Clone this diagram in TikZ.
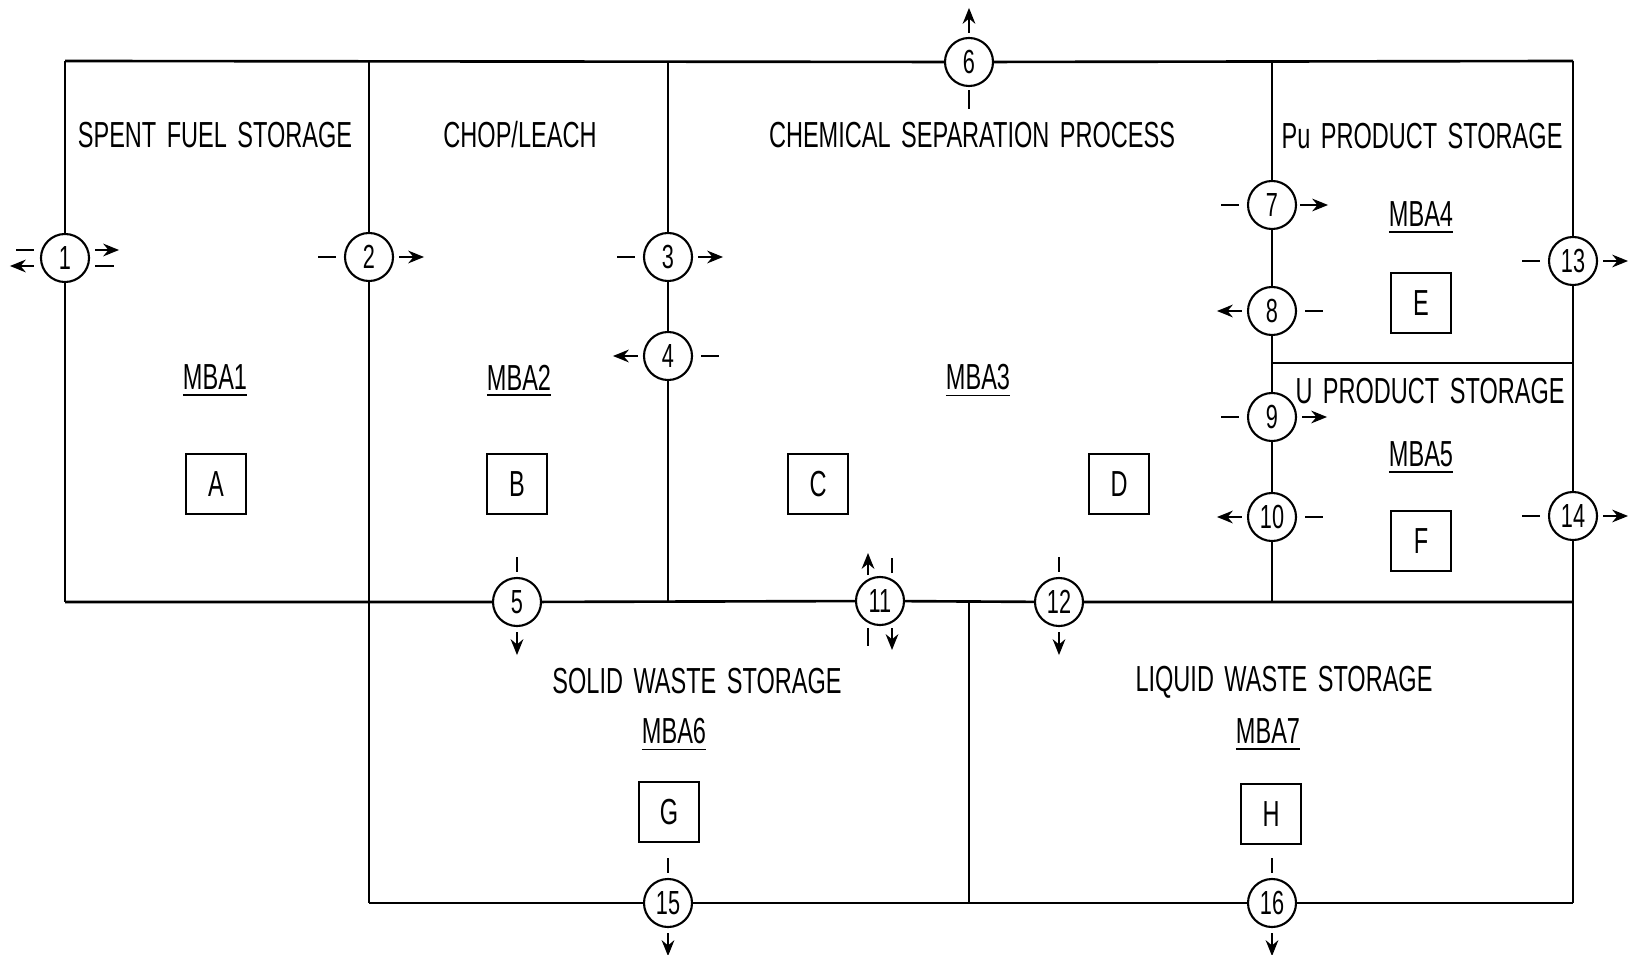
\documentclass[tikz,border=0pt]{standalone}
\usepackage{fontspec}
\setmainfont{Liberation Sans}[FakeStretch=0.65,WordSpace=1.6]
\usetikzlibrary{arrows.meta}

\tikzset{
  wall/.style={line width=0.75pt},
  mpoint/.style={circle, draw, line width=0.6pt, minimum size=0.48cm, inner sep=0pt,
    font=\fontsize{9.5}{10}\selectfont},
  matbox/.style={draw, line width=0.6pt, minimum size=0.6cm, inner sep=0pt},
  lbl/.style={font=\fontsize{10.3}{12}\selectfont},
  tick/.style={line width=0.6pt},
  flow/.style={line width=0.6pt, -{Stealth[length=4.5pt,width=3.6pt]}}
}

\begin{document}
\begin{tikzpicture}[x=0.01cm, y=-0.01cm, lbl]
    \useasboundingbox (0,0) rectangle (1628,955);

    % Ecken
    \coordinate (tl) at (65,61);
    \coordinate (t2) at (369,61);
    \coordinate (t3) at (668,61);
    \coordinate (t4) at (1272,61);
    \coordinate (tr) at (1573,61);
    \coordinate (ml) at (65,602);
    \coordinate (m2) at (369,602);
    \coordinate (m3) at (668,602);
    \coordinate (m4) at (969,602);
    \coordinate (m5) at (1272,602);
    \coordinate (mr) at (1573,602);
    \coordinate (s4) at (1272,363);
    \coordinate (sr) at (1573,363);
    \coordinate (b2) at (369,903);
    \coordinate (b4) at (969,903);
    \coordinate (br) at (1573,903);

    % Messpunkte
    \node[mpoint] (c1) at (65,258) {1};
    \node[mpoint] (c2) at (369,257) {2};
    \node[mpoint] (c3) at (668,257) {3};
    \node[mpoint] (c4) at (668,356) {4};
    \node[mpoint] (c5) at (517,602) {5};
    \node[mpoint] (c6) at (969,62) {6};
    \node[mpoint] (c7) at (1272,205) {7};
    \node[mpoint] (c8) at (1272,311) {8};
    \node[mpoint] (c9) at (1272,417) {9};
    \node[mpoint] (c10) at (1272,517) {10};
    \node[mpoint] (c11) at (880,601) {11};
    \node[mpoint] (c12) at (1059,602) {12};
    \node[mpoint] (c13) at (1573,261) {13};
    \node[mpoint] (c14) at (1573,516) {14};
    \node[mpoint] (c15) at (668,903) {15};
    \node[mpoint] (c16) at (1272,903) {16};

    % Waende
    \draw[wall] (tl) -- (c6) -- (tr);
    \draw[wall] (tl) -- (c1) -- (ml);
    \draw[wall] (t2) -- (c2) -- (b2);
    \draw[wall] (t3) -- (c3) -- (c4) -- (m3);
    \draw[wall] (t4) -- (c7) -- (c8) -- (c9) -- (c10) -- (m5);
    \draw[wall] (tr) -- (c13) -- (c14) -- (br);
    \draw[wall] (s4) -- (sr);
    \draw[wall] (ml) -- (c5) -- (c11) -- (c12) -- (mr);
    \draw[wall] (m4) -- (b4);
    \draw[wall] (b2) -- (c15) -- (c16) -- (br);

    % Bereiche
    \node at (215,135) {SPENT FUEL STORAGE};
    \node at (520,135) {CHOP/LEACH};
    \node at (972,135) {CHEMICAL SEPARATION PROCESS};
    \node at (1422,136) {Pu PRODUCT STORAGE};
    \node at (1430,391) {U PRODUCT STORAGE};
    \node at (697,681) {SOLID WASTE STORAGE};
    \node at (1284,682) {LIQUID WASTE STORAGE};

    \node (mba1) at (215,381) {\underline{MBA1}};
    \node (mba2) at (519,381) {\underline{MBA2}};
    \node (mba3) at (978,381) {\underline{MBA3}};
    \node (mba4) at (1421,218) {\underline{MBA4}};
    \node (mba5) at (1421,458) {\underline{MBA5}};
    \node (mba6) at (674,735) {\underline{MBA6}};
    \node (mba7) at (1268,735) {\underline{MBA7}};

    % Inventar
    \node[matbox] (A) at (216,484) {A};
    \node[matbox] (B) at (517,484) {B};
    \node[matbox] (C) at (818,484) {C};
    \node[matbox] (D) at (1119,484) {D};
    \node[matbox] (E) at (1421,303) {E};
    \node[matbox] (F) at (1421,541) {F};
    \node[matbox] (G) at (669,812) {G};
    \node[matbox] (H) at (1271,814) {H};

    % Fluesse
    \draw[tick] (c1.west) ++(-6,-8) -- ++(-18,0);
    \draw[flow] (c1.west) ++(-6,8) -- ++(-24,0);
    \draw[flow] (c1.east) ++(5,-8) -- ++(24,0);
    \draw[tick] (c1.east) ++(5,8) -- ++(19,0);

    \draw[tick] (c2.west) ++(-8,0) -- ++(-18,0);
    \draw[flow] (c2.east) ++(5,0) -- ++(25,0);
    \draw[tick] (c3.west) ++(-8,0) -- ++(-18,0);
    \draw[flow] (c3.east) ++(5,0) -- ++(25,0);
    \draw[flow] (c4.west) ++(-5,0) -- ++(-25,0);
    \draw[tick] (c4.east) ++(8,0) -- ++(18,0);
    \draw[tick] (c7.west) ++(-8,0) -- ++(-18,0);
    \draw[flow] (c7.east) ++(3,0) -- ++(28,0);
    \draw[flow] (c8.west) ++(-5,0) -- ++(-25,0);
    \draw[tick] (c8.east) ++(8,0) -- ++(18,0);
    \draw[tick] (c9.west) ++(-8,0) -- ++(-18,0);
    \draw[flow] (c9.east) ++(5,0) -- ++(25,0);
    \draw[flow] (c10.west) ++(-5,0) -- ++(-25,0);
    \draw[tick] (c10.east) ++(8,0) -- ++(18,0);
    \draw[tick] (c13.west) ++(-8,0) -- ++(-18,0);
    \draw[flow] (c13.east) ++(5,0) -- ++(25,0);
    \draw[tick] (c14.west) ++(-8,0) -- ++(-18,0);
    \draw[flow] (c14.east) ++(5,0) -- ++(25,0);

    \draw[flow] (c6.north) ++(0,-4) -- ++(0,-25);
    \draw[tick] (c6.south) ++(0,3) -- ++(0,19);
    \draw[tick] (c5.north) ++(0,-5) -- ++(0,-15);
    \draw[flow] (c5.south) ++(0,5) -- ++(0,23);
    \draw[tick] (c12.north) ++(0,-5) -- ++(0,-15);
    \draw[flow] (c12.south) ++(0,5) -- ++(0,23);
    \draw[tick] (c15.north) ++(0,-5) -- ++(0,-15);
    \draw[flow] (c15.south) ++(0,5) -- ++(0,23);
    \draw[tick] (c16.north) ++(0,-5) -- ++(0,-15);
    \draw[flow] (c16.south) ++(0,5) -- ++(0,23);

    \draw[flow] (c11.center) ++(-12,-26) -- ++(0,-22);
    \draw[tick] (c11.center) ++(12,-28) -- ++(0,-15);
    \draw[tick] (c11.center) ++(-12,27) -- ++(0,18);
    \draw[flow] (c11.center) ++(12,27) -- ++(0,22);
\end{tikzpicture}
\end{document}
